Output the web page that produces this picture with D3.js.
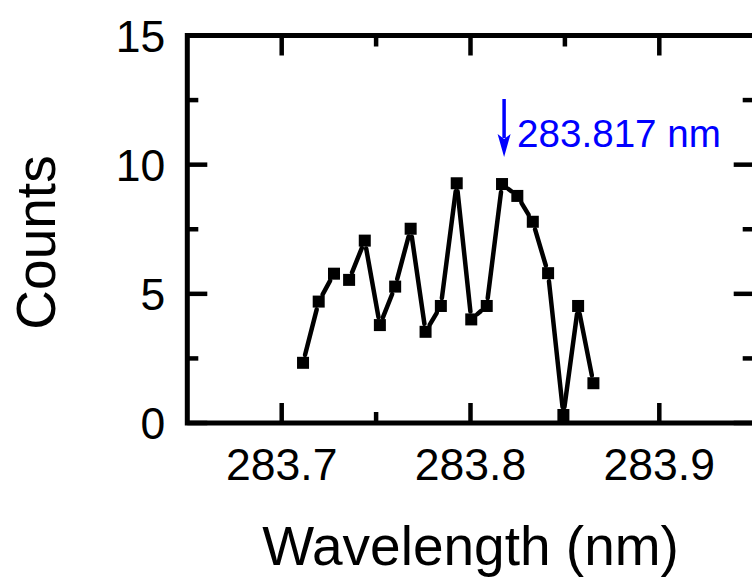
<!DOCTYPE html>
<html><head><meta charset="utf-8">
<script src="https://cdn.jsdelivr.net/npm/d3@7"></script>
<style>html,body{margin:0;padding:0;background:#fff;overflow:hidden}</style>
</head><body>
<svg id="c" width="752" height="578"></svg>
<script>
const wavelengths = [283.7113,283.7196,283.7277,283.7357,283.7440,283.7520,283.7601,283.7683,283.7762,283.7843,
  283.7927,283.8004,283.8086,283.8167,283.8248,283.8330,283.8411,283.8492,283.8570,283.8651];
const counts = [2.33,4.70,5.78,5.54,7.06,3.79,5.28,7.52,3.53,4.53,9.28,4.01,4.53,9.25,8.79,7.79,5.80,0.31,4.53,1.54];
const xTicks = [283.7, 283.8, 283.9];
const xMinorTicks = [283.75, 283.85];
const yTicks = [0, 5, 10, 15];
const yMinorTicks = [2.5, 7.5, 12.5];
const peakWavelength = [283.817];
const peakLabel = ["283.817 nm"];
const xTitle = "Wavelength (nm)";
const yTitle = "Counts";

const font = "Arial, 'Liberation Sans', sans-serif";
const svg = d3.select("#c");
const L = 187.3, R = 753.7, T = 35.5, B = 423;
const x = d3.scaleLinear().domain([283.65, 283.95]).range([L, R]);
const y = d3.scaleLinear().domain([0, 15]).range([B, T]);

const majorLen = 20, minorLen = 11, tickW = 4.5, frameW = 5;

// ticks
const g = svg.append("g").attr("stroke", "#000").attr("stroke-width", tickW);
xTicks.forEach(v => {
  g.append("line").attr("x1", x(v)).attr("x2", x(v)).attr("y1", B).attr("y2", B - majorLen);
  g.append("line").attr("x1", x(v)).attr("x2", x(v)).attr("y1", T).attr("y2", T + majorLen);
});
xMinorTicks.forEach(v => {
  g.append("line").attr("x1", x(v)).attr("x2", x(v)).attr("y1", B).attr("y2", B - minorLen);
  g.append("line").attr("x1", x(v)).attr("x2", x(v)).attr("y1", T).attr("y2", T + minorLen);
});
yTicks.forEach(v => {
  g.append("line").attr("y1", y(v)).attr("y2", y(v)).attr("x1", L).attr("x2", L + majorLen);
  g.append("line").attr("y1", y(v)).attr("y2", y(v)).attr("x1", R).attr("x2", R - majorLen);
});
yMinorTicks.forEach(v => {
  g.append("line").attr("y1", y(v)).attr("y2", y(v)).attr("x1", L).attr("x2", L + minorLen);
  g.append("line").attr("y1", y(v)).attr("y2", y(v)).attr("x1", R).attr("x2", R - minorLen);
});

// frame
svg.append("rect").attr("x", L).attr("y", T).attr("width", R + 4 - L).attr("height", B - T)
  .attr("fill", "none").attr("stroke", "#000").attr("stroke-width", frameW);

// tick labels
svg.append("g").selectAll("text").data(xTicks).join("text")
  .attr("x", d => x(d)).attr("y", B + 57).attr("text-anchor", "middle")
  .attr("font-family", font).attr("font-size", 44.5).attr("fill", "#000").text(d => d.toFixed(1));
svg.append("g").selectAll("text").data(yTicks).join("text")
  .attr("x", L - 22).attr("y", d => y(d) + 16).attr("text-anchor", "end")
  .attr("font-family", font).attr("font-size", 44.5).attr("fill", "#000").text(d => d);

// axis titles
svg.append("text").attr("x", (L + R) / 2).attr("y", 565).attr("text-anchor", "middle")
  .attr("font-family", font).attr("font-size", 55).attr("fill", "#000").text(xTitle);
svg.append("text").attr("transform", `translate(55,${242.5}) rotate(-90)`).attr("text-anchor", "middle")
  .attr("font-family", font).attr("font-size", 55).attr("fill", "#000").text(yTitle);

// data line with gaps near markers
const pts = wavelengths.map((w, i) => [x(w), y(counts[i])]);
const gap = 8;
const lg = svg.append("g").attr("stroke", "#000").attr("stroke-width", 4.5).attr("stroke-linecap", "round");
for (let i = 0; i < pts.length - 1; i++) {
  const [x1, y1] = pts[i], [x2, y2] = pts[i + 1];
  const dx = x2 - x1, dy = y2 - y1, len = Math.hypot(dx, dy);
  if (len <= 2 * gap + 1) continue;
  const ux = dx / len, uy = dy / len;
  lg.append("line").attr("x1", x1 + ux * gap).attr("y1", y1 + uy * gap)
    .attr("x2", x2 - ux * gap).attr("y2", y2 - uy * gap);
}
const ms = 12;
svg.append("g").selectAll("rect").data(pts).join("rect")
  .attr("x", d => d[0] - ms / 2).attr("y", d => d[1] - ms / 2)
  .attr("width", ms).attr("height", ms).attr("fill", "#000");

// annotation arrow
const ax = x(peakWavelength[0]) + 1.5;
const tipY = 157, headLen = 23, headW = 13;
svg.append("line").attr("x1", ax).attr("x2", ax).attr("y1", 99).attr("y2", tipY - headLen + 4)
  .attr("stroke", "#0000ff").attr("stroke-width", 3.5);
svg.append("path").attr("d", `M${ax - headW / 2},${tipY - headLen} L${ax},${tipY - headLen + 5} L${ax + headW / 2},${tipY - headLen} L${ax},${tipY} Z`)
  .attr("fill", "#0000ff");
svg.append("text").attr("x", ax + 13).attr("y", 146.7)
  .attr("font-family", font).attr("font-size", 38.6).attr("fill", "#0000ff").text(peakLabel[0]);
</script>
</body></html>
